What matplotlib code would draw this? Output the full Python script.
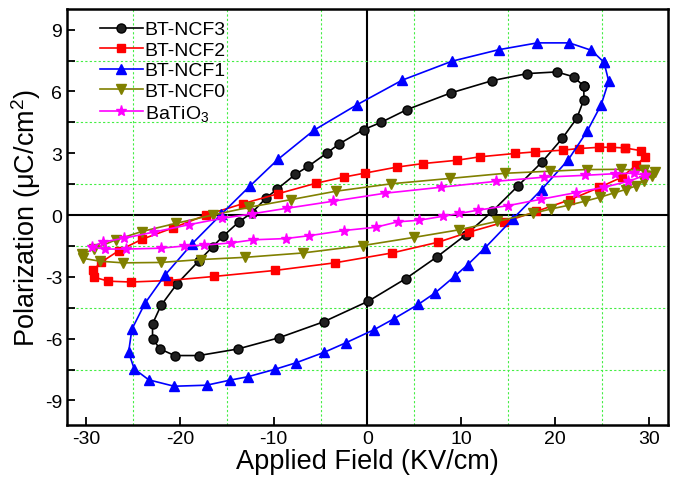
import matplotlib
matplotlib.use('Agg')
import matplotlib.pyplot as plt
from matplotlib.ticker import MultipleLocator, FixedLocator

plt.rcParams['font.family'] = ['Liberation Sans', 'DejaVu Sans']
plt.rcParams['mathtext.default'] = 'regular'
plt.rcParams['axes.unicode_minus'] = False

# hysteresis loops (field in KV/cm, polarization in uC/cm2)
ncf3_x = [23.05, 22.0, 20.16, 17.04, 13.32, 8.88, 4.20, 1.44, -0.4, -3.0, -4.3, -6.3, -7.7, -9.6,
          -10.8, -12.3, -13.7, -15.4, -16.5, -18.0, -20.3, -22.0, -22.9, -22.9, -22.1, -20.55,
          -17.96, -13.8, -9.45, -4.66, 0.09, 4.1, 7.4, 10.5, 13.3, 16.0, 18.6, 20.75, 22.3, 23.06, 23.05]
ncf3_y = [6.25, 6.71, 6.95, 6.87, 6.53, 5.93, 5.12, 4.50, 4.15, 3.46, 3.02, 2.37, 1.97, 1.27,
          0.83, 0.12, -0.33, -1.03, -1.54, -2.24, -3.34, -4.39, -5.28, -6.01, -6.5, -6.82,
          -6.82, -6.5, -5.96, -5.18, -4.18, -3.08, -2.03, -0.95, 0.18, 1.40, 2.58, 3.72, 4.7, 5.61, 6.25]

ncf2_x = [27.4, 25.9, 24.7, 22.5, 20.8, 17.9, 15.7, 12.0, 9.5, 5.9, 3.15, -0.25, -2.45, -5.45,
          -9.5, -13.3, -17.2, -20.7, -24.0, -26.5, -28.35, -29.2, -29.1, -27.6, -25.2, -21.3,
          -16.35, -9.9, -3.5, 2.6, 7.5, 10.8, 14.5, 18.0, 21.6, 24.7, 27.1, 28.6, 29.55, 29.1, 27.4]
ncf2_y = [3.26, 3.29, 3.29, 3.23, 3.15, 3.07, 2.99, 2.83, 2.66, 2.5, 2.33, 2.04, 1.85, 1.55,
          1.04, 0.55, 0.0, -0.62, -1.17, -1.73, -2.28, -2.66, -3.02, -3.21, -3.25, -3.18,
          -2.98, -2.69, -2.32, -1.84, -1.32, -0.83, -0.35, 0.18, 0.75, 1.34, 1.84, 2.42, 2.81, 3.13, 3.26]

ncf1_x = [25.2, 23.85, 21.5, 18.1, 14.0, 9.0, 3.7, -1.1, -5.7, -9.55, -12.5, -15.6, -18.7, -21.55,
          -23.7, -25.1, -25.45, -24.85, -23.3, -20.6, -17.15, -14.7, -12.75, -9.8, -7.6, -4.6,
          -2.3, 0.72, 2.8, 5.4, 7.2, 9.3, 10.7, 12.55, 15.5, 18.55, 21.4, 23.4, 24.9, 25.7, 25.2]
ncf1_y = [7.42, 8.0, 8.36, 8.36, 8.03, 7.47, 6.55, 5.36, 4.12, 2.7, 1.42, 0.03, -1.4, -2.9,
          -4.28, -5.54, -6.66, -7.47, -8.0, -8.31, -8.26, -8.02, -7.85, -7.48, -7.17, -6.66,
          -6.2, -5.56, -5.04, -4.34, -3.78, -2.97, -2.4, -1.58, -0.18, 1.24, 2.69, 4.07, 5.36, 6.5, 7.42]

ncf0_x = [29.5, 27.0, 23.35, 19.4, 14.7, 8.8, 2.55, -3.35, -8.15, -12.6, -16.5, -20.4, -24.05,
          -26.8, -29.1, -30.4, -30.3, -28.5, -26.0, -22.0, -17.75, -13.0, -6.9, -0.5, 5.0, 9.7,
          13.85, 17.65, 19.6, 21.35, 23.15, 24.8, 26.3, 27.5, 28.65, 29.45, 30.3, 30.6, 29.5]
ncf0_y = [2.17, 2.22, 2.21, 2.13, 2.03, 1.78, 1.52, 1.16, 0.75, 0.38, 0.0, -0.4, -0.8,
          -1.2, -1.64, -1.9, -2.1, -2.24, -2.32, -2.3, -2.16, -2.05, -1.84, -1.48, -1.08, -0.72,
          -0.3, 0.09, 0.3, 0.47, 0.67, 0.87, 1.08, 1.24, 1.42, 1.67, 1.92, 2.08, 2.17]

bto_x = [29.6, 28.4, 26.4, 23.15, 18.8, 13.7, 7.8, 1.85, -3.7, -8.6, -12.3, -15.55, -19.05, -22.7,
         -25.9, -28.2, -29.4, -28.0, -25.7, -22.05, -19.5, -17.45, -14.5, -12.15, -8.7, -6.2,
         -2.5, 0.9, 3.2, 5.5, 8.0, 9.8, 11.8, 15.0, 18.5, 22.2, 25.2, 27.8, 29.6]
bto_y = [1.93, 2.03, 2.01, 1.93, 1.84, 1.64, 1.35, 1.06, 0.67, 0.33, 0.06, -0.16, -0.47, -0.82,
         -1.12, -1.31, -1.55, -1.65, -1.65, -1.61, -1.5, -1.46, -1.35, -1.2, -1.14, -1.0,
         -0.75, -0.59, -0.33, -0.25, -0.06, 0.08, 0.24, 0.46, 0.77, 1.09, 1.35, 1.64, 1.93]

fig = plt.figure(figsize=(6.78, 4.81), dpi=100)
ax = fig.add_axes([0.099, 0.114, 0.886, 0.865])

ax.plot(ncf3_x, ncf3_y, '-', color='black', lw=1.2, marker='o', ms=6.5,
        mfc='#202020', mec='black', label='BT-NCF3')
ax.plot(ncf2_x, ncf2_y, '-', color='#ff0000', lw=1.2, marker='s', ms=6, label='BT-NCF2')
ax.plot(ncf1_x, ncf1_y, '-', color='#0000ff', lw=1.2, marker='^', ms=7, label='BT-NCF1')
ax.plot(ncf0_x, ncf0_y, '-', color='#808000', lw=1.2, marker='v', ms=7, label='BT-NCF0')
ax.plot(bto_x, bto_y, '-', color='#ff00ff', lw=1.2, marker='*', ms=8, label='BaTiO$_3$')

ax.axhline(0, color='black', lw=1.5, zorder=1)
ax.axvline(0, color='black', lw=1.5, zorder=1)

ax.set_xlim(-32, 32)
ax.set_ylim(-10.2, 10)
ax.xaxis.set_major_locator(MultipleLocator(10))
ax.xaxis.set_minor_locator(FixedLocator([-25, -15, -5, 5, 15, 25]))
ax.yaxis.set_major_locator(MultipleLocator(3))
ax.yaxis.set_minor_locator(FixedLocator([-7.5, -4.5, -1.5, 1.5, 4.5, 7.5]))
ax.grid(which='minor', color='#44ee44', ls=(0, (2, 2)), lw=0.8)
ax.tick_params(which='major', direction='in', length=6, width=1.3, labelsize=14)
ax.tick_params(axis='x', which='minor', length=0)
ax.tick_params(axis='y', which='minor', direction='in', length=6, width=1.3)
for s in ax.spines.values():
    s.set_linewidth(1.8)

ax.set_xlabel('Applied Field (KV/cm)', fontsize=19.5, labelpad=1)
ax.set_ylabel('Polarization (μC/cm$^2$)', fontsize=19.5, labelpad=1)

ax.legend(loc='upper left', frameon=False, fontsize=14, handlelength=2.2,
          labelspacing=0.15, handletextpad=0.1, borderaxespad=0.2, bbox_to_anchor=(0.035, 1.0))

fig.savefig('out.png', dpi=100)
